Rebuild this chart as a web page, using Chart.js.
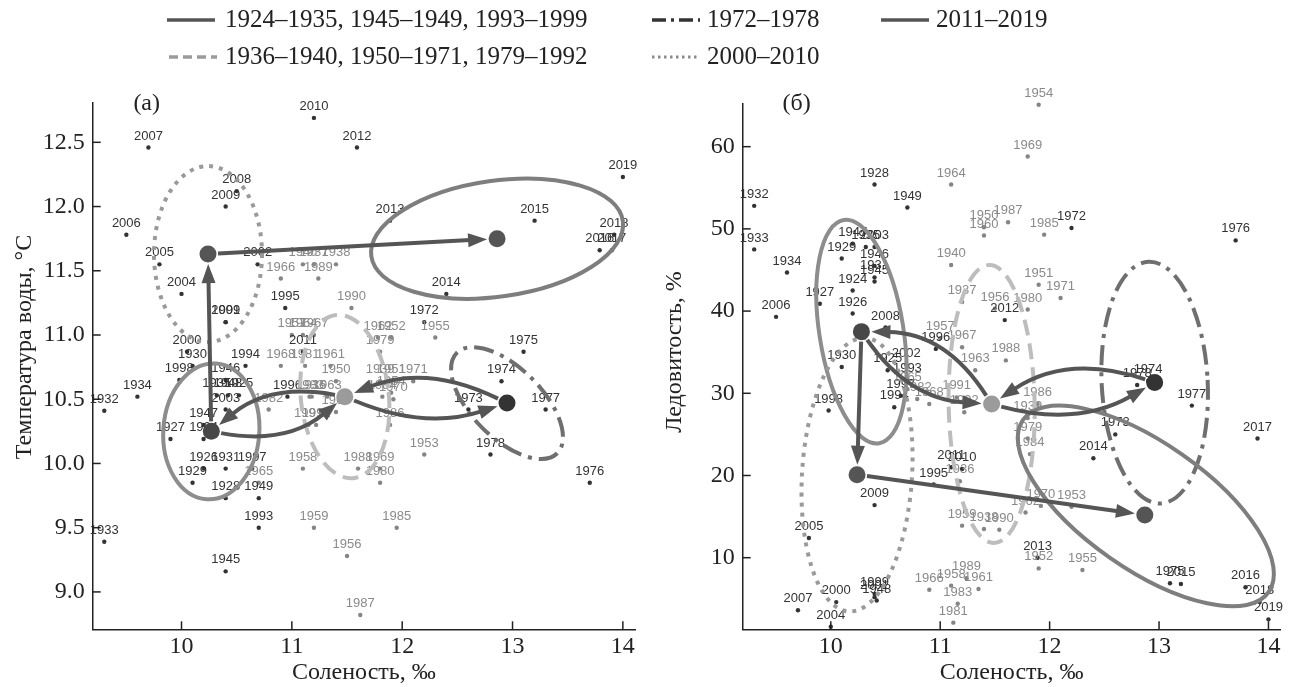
<!DOCTYPE html>
<html>
<head>
<meta charset="utf-8">
<script src="https://cdn.jsdelivr.net/npm/chart.js@4"></script>
<style>
  html, body { margin: 0; padding: 0; background: #fff; }
  #wrap { position: relative; width: 1289px; height: 687px; }
  #wrap canvas { position: absolute; left: 0; top: 0; }
</style>
</head>
<body>
<div id="wrap">
  <canvas id="chartA" width="1289" height="687"></canvas>
  <canvas id="chartB" width="1289" height="687"></canvas>
</div>
<script>
// --- данные ---
const years = [1924,1925,1926,1927,1928,1929,1930,1931,1932,1933,1934,1935,1936,1937,1938,1939,1940,
  1945,1946,1947,1948,1949,1950,1951,1952,1953,1954,1955,1956,1957,1958,1959,1960,1961,1962,1963,1964,
  1965,1966,1967,1968,1969,1970,1971,1972,1973,1974,1975,1976,1977,1978,1979,1980,1981,1982,1983,1984,
  1985,1986,1987,1988,1989,1990,1991,1992,1993,1994,1995,1996,1997,1998,1999,2000,2001,2002,2003,2004,
  2005,2006,2007,2008,2009,2010,2011,2012,2013,2014,2015,2016,2017,2018,2019];

// соленость, ‰
const salinity = [10.20,10.52,10.20,9.90,10.40,10.10,10.10,10.40,9.30,9.30,9.60,10.32,11.18,11.20,11.40,11.80,11.10,
  10.40,10.40,10.20,10.42,10.70,11.40,11.90,11.90,12.20,11.90,12.30,11.50,11.00,11.10,11.20,11.40,11.35,11.78,11.32,11.10,
  10.70,10.90,11.20,10.90,11.80,11.92,12.10,12.20,12.60,12.90,13.10,13.70,13.30,12.80,11.80,11.80,11.12,10.79,11.16,11.82,
  11.95,11.89,11.62,11.60,11.24,11.54,11.15,11.22,10.70,10.58,10.94,10.96,10.64,9.98,10.40,10.05,10.40,10.69,10.40,10.00,
  9.80,9.50,9.70,10.50,10.40,11.20,11.10,11.59,11.89,12.40,13.20,13.79,13.90,13.92,14.00];

// температура воды, °C
const temperature = [10.19,10.53,9.96,10.19,9.73,9.85,10.76,9.96,10.41,9.39,10.52,10.53,10.52,11.55,11.55,10.64,11.55,
  9.16,10.65,10.30,10.53,9.73,10.64,10.64,10.98,10.07,10.55,10.98,9.28,11.00,9.96,9.50,10.40,10.76,10.98,10.52,11.00,
  9.85,11.44,11.00,10.76,9.96,10.50,10.64,11.10,10.42,10.64,10.87,9.85,10.42,10.07,10.87,9.85,10.76,10.42,10.52,10.52,
  9.50,10.30,8.82,9.96,11.44,11.21,10.30,10.30,9.50,10.76,11.21,10.52,9.96,10.65,11.10,10.87,11.10,11.55,10.42,11.32,
  11.55,11.78,12.46,12.12,12.00,12.69,10.87,12.46,11.89,11.32,11.89,11.66,11.66,11.78,12.23];

// ледовитость, %
const iceCover = [42.5,32.8,39.7,40.9,55.4,46.4,33.2,44.1,52.8,47.5,44.7,47.8,19.3,41.1,13.5,27.0,45.6,
  43.6,45.5,48.2,4.8,52.6,50.2,43.2,8.7,16.2,65.1,8.5,40.3,36.7,6.6,13.9,49.2,6.2,15.5,32.8,55.4,
  30.5,6.1,35.6,28.7,58.8,16.3,41.6,50.1,25.0,31.5,6.9,48.6,28.5,31.0,24.5,40.2,2.1,29.3,4.4,22.6,
  49.3,28.7,50.8,34.0,7.5,13.4,29.5,27.7,31.6,28.3,18.9,35.4,29.7,27.9,5.6,4.6,5.2,33.5,47.8,1.6,
  12.4,39.3,3.6,38.0,16.4,20.8,21.0,38.9,10.0,22.1,6.8,6.4,24.5,4.6,2.5];

// группы лет
const groupLabels = ['1924–1935, 1945–1949, 1993–1999', '1936–1940, 1950–1971, 1979–1992',
  '1972–1978', '2000–2010', '2011–2019'];
const groupPeriods = [
  [[1924, 1935], [1945, 1949], [1993, 1999]],
  [[1936, 1940], [1950, 1971], [1979, 1992]],
  [[1972, 1978]],
  [[2000, 2010]],
  [[2011, 2019]]
];

// центры групп
const centerSalA = [10.27, 11.48, 12.95, 10.24, 12.86];
const centerTempA = [10.25, 10.52, 10.47, 11.63, 11.75];
const centerSalB = [10.28, 11.47, 12.96, 10.24, 12.87];
const centerIceB = [37.5, 28.7, 31.3, 20.1, 15.2];

// деления осей
const salTicks = [10, 11, 12, 13, 14];
const tempTicks = [9.0, 9.5, 10.0, 10.5, 11.0, 11.5, 12.0, 12.5];
const iceTicks = [10, 20, 30, 40, 50, 60];

// переходы между группами: [из, в, изгиб]
const transitionsA = [[0, 1, 16], [1, 0, 16], [1, 2, 15], [2, 1, 18], [0, 3, 0], [3, 4, 0]];
const transitionsB = [[0, 1, 18], [1, 0, 20], [1, 2, 17], [2, 1, 20], [0, 3, 0], [3, 4, 0]];

// --- оформление ---
const SERIF = '"Liberation Serif", "DejaVu Serif", serif';
const SANS = '"Liberation Sans", Arial, sans-serif';
const groupLine = [
  { color: '#8d8d8d', dash: [] },
  { color: '#bdbdbd', dash: [16, 8] },
  { color: '#6f6f6f', dash: [20, 7, 4, 7] },
  { color: '#9a9a9a', dash: [4, 6] },
  { color: '#7e7e7e', dash: [] }
];
const centerColors = ['#474747', '#9b9b9b', '#333333', '#555555', '#555555'];
// эллипсы (полуоси в пикселях, угол в градусах)
const ellipsesA = [
  { rx: 48, ry: 68, rot: 4 }, { rx: 44, ry: 82, rot: -6 }, { rx: 71, ry: 35, rot: 45 },
  { rx: 54, ry: 88, rot: 0 }, { rx: 127, ry: 58, rot: -8 }
];
const ellipsesB = [
  { rx: 42, ry: 113, rot: -9 }, { rx: 43, ry: 139, rot: -1 }, { rx: 53, ry: 121, rot: -3 },
  { rx: 55, ry: 137, rot: 3.5 }, { rx: 150, ry: 63, rot: 35, dx: 1, dy: -9 }
];

function groupIndex(year) {
  return groupPeriods.findIndex(ps => ps.some(([a, b]) => year >= a && year <= b));
}

function pointSets(values) {
  return groupLabels.map((label, g) => ({
    label,
    data: years.map((yr, i) => ({ x: salinity[i], y: values[i], year: yr }))
      .filter(p => groupIndex(p.year) === g),
    pointRadius: 2.2,
    pointBackgroundColor: g === 1 ? '#858585' : '#333',
    pointBorderWidth: 0,
    showLine: false,
    clip: false,
    order: 2
  }));
}

function centerSet(xs, ys) {
  return {
    label: 'centers',
    data: xs.map((x, i) => ({ x, y: ys[i] })),
    pointRadius: 8.5,
    pointBackgroundColor: centerColors,
    pointBorderWidth: 0,
    clip: false,
    order: 0
  };
}

function toward(p, q, d) {
  const L = Math.hypot(q.x - p.x, q.y - p.y) || 1;
  return { x: p.x + (q.x - p.x) / L * d, y: p.y + (q.y - p.y) / L * d };
}

function drawArrow(ctx, a, b, bulge) {
  const dx = b.x - a.x, dy = b.y - a.y, L = Math.hypot(dx, dy);
  const nx = dy / L, ny = -dx / L;
  const c = { x: (a.x + b.x) / 2 - nx * 2 * bulge, y: (a.y + b.y) / 2 - ny * 2 * bulge };
  const s = toward(a, c, 10);
  const tip = toward(b, c, 10);
  const hl = Math.hypot(tip.x - c.x, tip.y - c.y);
  const ux = (tip.x - c.x) / hl, uy = (tip.y - c.y) / hl;
  const base = { x: tip.x - ux * 19, y: tip.y - uy * 19 };
  ctx.beginPath();
  ctx.moveTo(s.x, s.y);
  ctx.quadraticCurveTo(c.x, c.y, base.x + ux * 2, base.y + uy * 2);
  ctx.stroke();
  ctx.beginPath();
  ctx.moveTo(tip.x, tip.y);
  ctx.lineTo(base.x - uy * 7, base.y + ux * 7);
  ctx.lineTo(base.x + uy * 7, base.y - ux * 7);
  ctx.closePath();
  ctx.fill();
}

function drawLegend(ctx) {
  const items = [
    { g: 0, color: '#555', x: 167, y: 19, tx: 225 },
    { g: 2, color: '#333', x: 652, y: 19, tx: 707 },
    { g: 4, color: '#555', x: 881, y: 19, tx: 936 },
    { g: 1, color: '#9a9a9a', x: 169, y: 56, tx: 225 },
    { g: 3, color: '#8a8a8a', x: 652, y: 56, tx: 707 }
  ];
  ctx.save();
  ctx.font = '25px ' + SERIF;
  ctx.textBaseline = 'middle';
  ctx.fillStyle = '#222';
  items.forEach(it => {
    ctx.strokeStyle = it.color;
    ctx.lineWidth = it.g === 3 ? 3 : 3.5;
    ctx.setLineDash(it.g === 1 ? [9, 5] : it.g === 2 ? [14, 5, 3, 5] : it.g === 3 ? [2.5, 3.5] : []);
    ctx.beginPath();
    ctx.moveTo(it.x, it.y + 1);
    ctx.lineTo(it.x + 48, it.y + 1);
    ctx.stroke();
    ctx.fillText(groupLabels[it.g], it.tx, it.y + 1);
  });
  ctx.restore();
}

const overlay = {
  id: 'overlay',
  beforeDatasetDraw(chart, args, opts) {
    if (args.index !== groupLabels.length) return;
    const ctx = chart.ctx;
    ctx.save();
    // подписи годов
    ctx.font = '13px ' + SANS;
    ctx.textAlign = 'center';
    ctx.textBaseline = 'bottom';
    for (let g = 0; g < groupLabels.length; g++) {
      const meta = chart.getDatasetMeta(g);
      ctx.fillStyle = g === 1 ? '#8a8a8a' : '#333';
      meta.data.forEach((el, i) => {
        ctx.fillText(String(chart.data.datasets[g].data[i].year), el.x, el.y - 5);
      });
    }
    // эллипсы
    const centers = chart.getDatasetMeta(groupLabels.length).data;
    opts.ellipses.forEach((e, g) => {
      const st = groupLine[g];
      ctx.strokeStyle = st.color;
      ctx.lineWidth = 4;
      ctx.lineCap = 'butt';
      ctx.setLineDash(st.dash);
      ctx.beginPath();
      ctx.ellipse(centers[g].x + (e.dx || 0), centers[g].y + (e.dy || 0), e.rx, e.ry, e.rot * Math.PI / 180, 0, Math.PI * 2);
      ctx.stroke();
    });
    // стрелки
    ctx.setLineDash([]);
    ctx.strokeStyle = '#555';
    ctx.fillStyle = '#555';
    ctx.lineWidth = 4;
    opts.transitions.forEach(([from, to, bulge]) => {
      drawArrow(ctx, centers[from], centers[to], bulge);
    });
    ctx.restore();
  },
  afterDraw(chart, args, opts) {
    const ctx = chart.ctx;
    const xs = chart.scales.x, ys = chart.scales.y;
    const area = chart.chartArea;
    ctx.save();
    // внутренние засечки
    ctx.strokeStyle = '#222';
    ctx.lineWidth = 1.5;
    salTicks.forEach(v => {
      const px = xs.getPixelForValue(v);
      ctx.beginPath(); ctx.moveTo(px, area.bottom); ctx.lineTo(px, area.bottom - 8); ctx.stroke();
    });
    opts.yTicks.forEach(v => {
      const py = ys.getPixelForValue(v);
      ctx.beginPath(); ctx.moveTo(area.left, py); ctx.lineTo(area.left + 8, py); ctx.stroke();
    });
    // подпись оси Y
    ctx.fillStyle = '#222';
    ctx.font = '24px ' + SERIF;
    ctx.textAlign = 'center';
    ctx.textBaseline = 'middle';
    ctx.save();
    ctx.translate(area.left - 68, opts.yTitleY);
    ctx.rotate(-Math.PI / 2);
    ctx.fillText(opts.yTitle, 0, 0);
    ctx.restore();
    // буква панели
    ctx.fillText(opts.panel, area.left + 54, 104);
    ctx.restore();
    if (opts.legend) drawLegend(ctx);
  }
};

function makeChart(id, values, cx, cy, yMin, yMax, yTicks, fmt, padding, extra) {
  return new Chart(document.getElementById(id), {
    type: 'scatter',
    data: { datasets: [...pointSets(values), centerSet(cx, cy)] },
    options: {
      responsive: false,
      maintainAspectRatio: false,
      animation: false,
      layout: { padding },
      events: [],
      scales: {
        x: {
          type: 'linear',
          min: 9.195, max: 14.11,
          afterBuildTicks: s => { s.ticks = salTicks.map(v => ({ value: v })); },
          afterFit: s => { s.height = 57.7; },
          grid: { display: false, drawTicks: false },
          border: { display: true, color: '#222', width: 1.5 },
          ticks: { font: { family: SERIF, size: 24 }, color: '#222', padding: 3, maxRotation: 0 },
          title: { display: true, text: 'Соленость, ‰', font: { family: SERIF, size: 24 }, color: '#222',
                   padding: { top: 0, bottom: 0 } }
        },
        y: {
          type: 'linear',
          min: yMin, max: yMax,
          afterBuildTicks: s => { s.ticks = yTicks.map(v => ({ value: v })); },
          afterFit: s => { s.width = 92.7; },
          grid: { display: false, drawTicks: false },
          border: { display: true, color: '#222', width: 1.5 },
          ticks: { font: { family: SERIF, size: 24 }, color: '#222', padding: 8, callback: fmt }
        }
      },
      plugins: {
        legend: { display: false },
        tooltip: { enabled: false },
        overlay: extra
      }
    },
    plugins: [overlay]
  });
}

makeChart('chartA', temperature, centerSalA, centerTempA, 8.709, 12.806, tempTicks,
  v => Number(v).toFixed(1),
  { left: 0, top: 103, right: 1289 - 635, bottom: 0 },
  { ellipses: ellipsesA, transitions: transitionsA, yTicks: tempTicks,
    yTitle: 'Температура воды, °C', yTitleY: 347, panel: '(а)', legend: true });

makeChart('chartB', iceCover, centerSalB, centerIceB, 1.29, 65.19, iceTicks,
  v => String(v),
  { left: 650, top: 104, right: 4, bottom: 0 },
  { ellipses: ellipsesB, transitions: transitionsB, yTicks: iceTicks,
    yTitle: 'Ледовитость, %', yTitleY: 352, panel: '(б)', legend: false });
</script>
</body>
</html>
